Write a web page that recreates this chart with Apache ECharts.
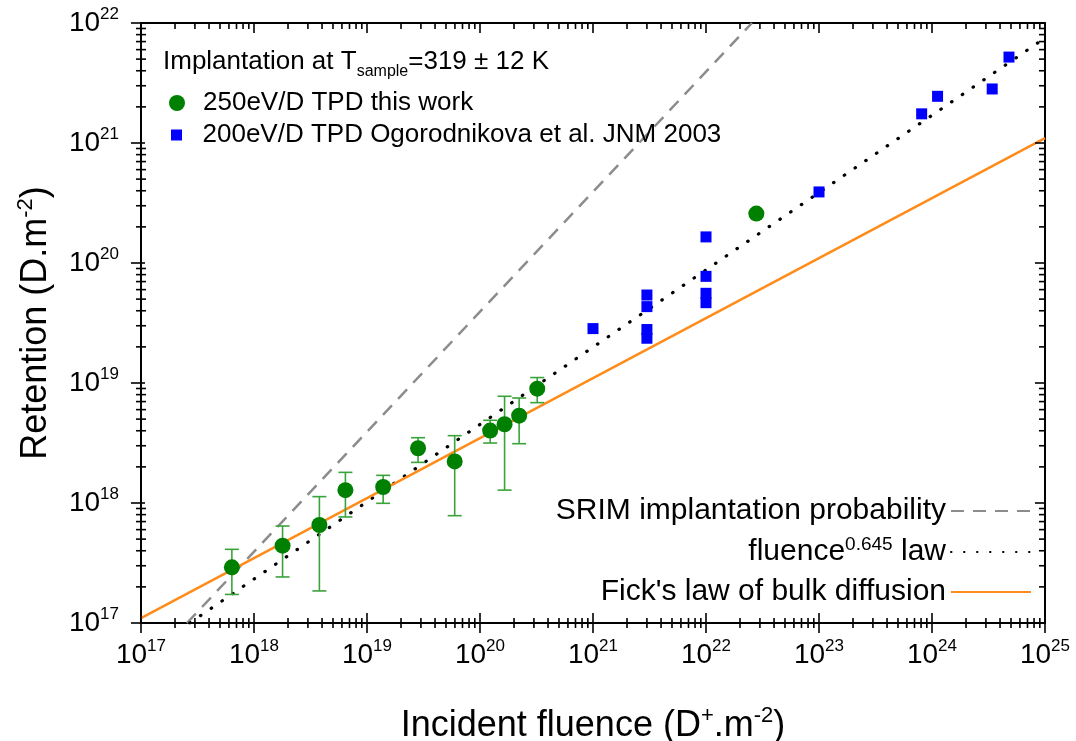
<!DOCTYPE html>
<html><head><meta charset="utf-8">
<script src="https://cdn.jsdelivr.net/npm/echarts@6/dist/echarts.min.js"></script>
<style>html,body{margin:0;padding:0;background:#fff}#c{width:1076px;height:741px}</style>
</head><body><div id="c"></div>
<script>
// ---- data ----
const greenX  = [6.37e17, 1.79e18, 3.79e18, 6.44e18, 1.39e19, 2.83e19, 5.97e19, 1.23e20, 1.65e20, 2.22e20, 3.21e20, 2.79e22];
const greenY  = [2.91e17, 4.41e17, 6.56e17, 1.28e18, 1.36e18, 2.86e18, 2.22e18, 4.01e18, 4.53e18, 5.34e18, 8.97e18, 2.58e20];
const greenHi = [4.11e17, 6.43e17, 1.13e18, 1.80e18, 1.70e18, 3.50e18, 3.64e18, 4.89e18, 7.75e18, 7.50e18, 1.11e19, null];
const greenLo = [1.73e17, 2.42e17, 1.85e17, 7.65e17, 9.94e17, 2.18e18, 7.84e17, 3.16e18, 1.28e18, 3.12e18, 6.86e18, null];

const blueX = [1e21, 3e21, 3e21, 3e21, 3e21, 1e22, 1e22, 1e22, 1e22, 1e23, 8.1e23, 1.12e24, 3.41e24, 4.8e24];
const blueY = [2.84e19, 5.41e19, 4.33e19, 2.79e19, 2.36e19, 1.65e20, 7.74e19, 5.59e19, 4.67e19, 3.91e20, 1.75e21, 2.45e21, 2.82e21, 5.2e21];

const srimLine  = [[2.55e17, 1e17], [2.55e22, 1e22]];
const powerLine = [[2.7e17, 1e17], [1e25, 7.5e21]];
const fickLine  = [[1e17, 1.1e17], [1e25, 1.1e21]];

const xMajor = [1e17, 1e18, 1e19, 1e20, 1e21, 1e22, 1e23, 1e24, 1e25];
const yMajor = [1e17, 1e18, 1e19, 1e20, 1e21, 1e22];

const nameGreen = '250eV/D TPD this work';
const nameBlue = '200eV/D TPD Ogorodnikova et al. JNM 2003';
const nameSrim = 'SRIM implantation probability';
const namePower = 'fluence^0.645 law';
const nameFick = "Fick's law of bulk diffusion";

// ---- helpers ----
const FONT = '"Liberation Sans", Arial, sans-serif';
const X_MIN = xMajor[0], X_MAX = xMajor[xMajor.length - 1];
const Y_MIN = yMajor[0], Y_MAX = yMajor[yMajor.length - 1];
function minorsOf(major) {
  const out = [];
  for (let i = 0; i < major.length - 1; i++) for (let k = 2; k <= 9; k++) out.push(k * major[i]);
  return out;
}
const xMinor = minorsOf(xMajor), yMinor = minorsOf(yMajor);
function expLabel(v) { return '{b|10}{s|' + Math.round(Math.log10(v)) + '}'; }
const labelRich = {
  b: { fontSize: 28, fontFamily: FONT, color: '#000', lineHeight: 34 },
  s: { fontSize: 17, fontFamily: FONT, color: '#000', lineHeight: 17, verticalAlign: 'top' }
};
const nameStyle = { fontSize: 36, fontFamily: FONT, color: '#000', lineHeight: 42,
  rich: { sup: { fontSize: 22, fontFamily: FONT, color: '#000', lineHeight: 22, verticalAlign: 'top' } } };

function axis(dim, pos, opts) {
  const isX = dim === 'x';
  return Object.assign({
    type: 'log', logBase: 10,
    min: isX ? X_MIN : Y_MIN, max: isX ? X_MAX : Y_MAX,
    position: pos,
    axisLine: { show: true, onZero: false, lineStyle: { color: '#000', width: 2 } },
    splitLine: { show: false },
    minorTick: { show: false },
    axisTick: { show: false },
    axisLabel: { show: false },
    silent: true
  }, opts || {});
}

const xAxes = [
  axis('x', 'bottom', {
    axisLabel: { show: true, customValues: xMajor, formatter: expLabel, rich: labelRich, margin: 15 },
    name: 'Incident fluence (D{sup|+}.m{sup|-2})', nameLocation: 'middle', nameGap: 82, nameTextStyle: nameStyle
  }),
  axis('x', 'top')
];
const yAxes = [
  axis('y', 'left', {
    axisLabel: { show: true, customValues: yMajor, formatter: expLabel, rich: labelRich, margin: 22 },
    name: 'Retention (D.m{sup|-2})', nameLocation: 'middle', nameGap: 84, nameTextStyle: nameStyle
  }),
  axis('y', 'right')
];

const greenData = greenX.map((x, i) => [x, greenY[i]]);
const errData = [];
greenX.forEach((x, i) => { if (greenLo[i] != null) errData.push([x, greenLo[i], greenHi[i]]); });
const blueData = blueX.map((x, i) => [x, blueY[i]]);
// tick marks: [x, y, flag(1 = major)]
const xTickData = () => xMajor.map(v => [v, Y_MIN, 1]).concat(xMinor.map(v => [v, Y_MIN, 0]));
const yTickData = () => yMajor.map(v => [X_MIN, v, 1]).concat(yMinor.map(v => [X_MIN, v, 0]));

// one custom series per frame side; lens = [major outward, major inward, minor outward, minor inward]
function tickSeries(id, data, side, lens) {
  return {
    name: id, type: 'custom', data: data, z: 10, clip: false, silent: true,
    encode: { x: 0, y: 1 },
    renderItem: function (params, api) {
      const cs = params.coordSys;
      const major = api.value(2) === 1;
      const out = major ? lens[0] : lens[2];
      const inn = major ? lens[1] : lens[3];
      let shape;
      if (side === 'bottom' || side === 'top') {
        const x = api.coord([api.value(0), Y_MIN])[0];
        if (side === 'bottom') { const y = cs.y + cs.height; shape = { x1: x, y1: y - inn, x2: x, y2: y + out }; }
        else { const y = cs.y; shape = { x1: x, y1: y - out, x2: x, y2: y + inn }; }
      } else {
        const y = api.coord([X_MIN, api.value(1)])[1];
        if (side === 'left') { const x = cs.x; shape = { x1: x - out, y1: y, x2: x + inn, y2: y }; }
        else { const x = cs.x + cs.width; shape = { x1: x - inn, y1: y, x2: x + out, y2: y }; }
      }
      return { type: 'line', shape: shape, style: { stroke: '#000', lineWidth: 1.6 } };
    }
  };
}

const chart = echarts.init(document.getElementById('c'), null, { renderer: 'canvas' });
const legendText = (size) => ({ fontSize: size, fontFamily: FONT, color: '#000', lineHeight: size + 4,
  rich: { sup: { fontSize: Math.round(size * 0.62), fontFamily: FONT, color: '#000', lineHeight: 14, verticalAlign: 'top' } } });
const lineLegend = (name, top, extra) => Object.assign({
  data: [name], right: 44, top: top, padding: 0, align: 'right', itemWidth: 80, itemHeight: 14,
  selectedMode: false, itemStyle: { opacity: 0, color: 'rgba(0,0,0,0)', borderWidth: 0 }, textStyle: legendText(30)
}, extra || {});

chart.setOption({
  animation: false,
  backgroundColor: '#fff',
  grid: { left: 141, right: 31, top: 23, bottom: 118, containLabel: false, outerBoundsMode: 'none' },
  title: {
    text: '{a|Implantation at T}{sub|sample}{a|=319 ± 12 K}',
    left: 163, top: 49, padding: 0,
    textStyle: {
      fontSize: 26, fontWeight: 'normal', fontFamily: FONT, color: '#000',
      rich: {
        a: { fontSize: 26, fontFamily: FONT, color: '#000', lineHeight: 31, verticalAlign: 'top' },
        sub: { fontSize: 16, fontFamily: FONT, color: '#000', lineHeight: 16, verticalAlign: 'bottom' }
      }
    }
  },
  legend: [
    { data: [{ name: nameGreen, icon: 'path://M10,0A10,10,0,1,1,10,20A10,10,0,1,1,10,0Z' }],
      left: 169, top: 88, padding: 0, itemWidth: 42, itemHeight: 16, selectedMode: false,
      textStyle: legendText(26) },
    { data: [{ name: nameBlue, icon: 'path://M0,0L10,0L10,10L0,10Z' }],
      left: 171, top: 120, padding: 0, itemWidth: 42, itemHeight: 11, selectedMode: false,
      textStyle: legendText(26) },
    lineLegend(nameSrim, 494),
    lineLegend(namePower, 535, { formatter: () => 'fluence{sup|0.645} law' }),
    lineLegend(nameFick, 575)
  ],
  xAxis: xAxes,
  yAxis: yAxes,
  series: [
    { name: nameSrim, type: 'line', data: srimLine, symbol: 'none', z: 2, clip: true,
      lineStyle: { color: '#8c8c8c', width: 2.5, type: [13, 9] }, itemStyle: { color: 'rgba(0,0,0,0)' } },
    { name: namePower, type: 'line', data: powerLine, symbol: 'none', z: 2, clip: true,
      lineStyle: { color: '#000', width: 3.2, type: [0.5, 12.5], cap: 'round' }, itemStyle: { color: 'rgba(0,0,0,0)' } },
    { name: nameFick, type: 'line', data: fickLine, symbol: 'none', z: 3, clip: true,
      lineStyle: { color: '#ff8c1a', width: 2.5 }, itemStyle: { color: 'rgba(0,0,0,0)' } },
    { name: 'err', type: 'custom', data: errData, z: 4, clip: true, silent: true,
      encode: { x: 0, y: [1, 2] },
      renderItem: function (params, api) {
        const x = api.value(0);
        const lo = api.coord([x, api.value(1)]);
        const hi = api.coord([x, api.value(2)]);
        const w = 7;
        const st = () => ({ stroke: '#3aa33a', lineWidth: 1.6 });
        return { type: 'group', children: [
          { type: 'line', shape: { x1: lo[0], y1: lo[1], x2: hi[0], y2: hi[1] }, style: st() },
          { type: 'line', shape: { x1: lo[0] - w, y1: lo[1], x2: lo[0] + w, y2: lo[1] }, style: st() },
          { type: 'line', shape: { x1: hi[0] - w, y1: hi[1], x2: hi[0] + w, y2: hi[1] }, style: st() }
        ] };
      } },
    { name: nameGreen, type: 'scatter', data: greenData, symbol: 'circle', symbolSize: 16, z: 5,
      itemStyle: { color: '#008000', opacity: 1 } },
    { name: nameBlue, type: 'scatter', data: blueData, symbol: 'rect', symbolSize: 11, z: 5,
      itemStyle: { color: '#0000ff', opacity: 1 } },
    tickSeries('ticksBottom', xTickData(), 'bottom', [10, 10, 5, 5]),
    tickSeries('ticksTop', xTickData(), 'top', [0, 10, 0, 6]),
    tickSeries('ticksLeft', yTickData(), 'left', [10, 4, 5, 5]),
    tickSeries('ticksRight', yTickData(), 'right', [0, 10, 0, 6])
  ]
});
</script>
</body></html>
